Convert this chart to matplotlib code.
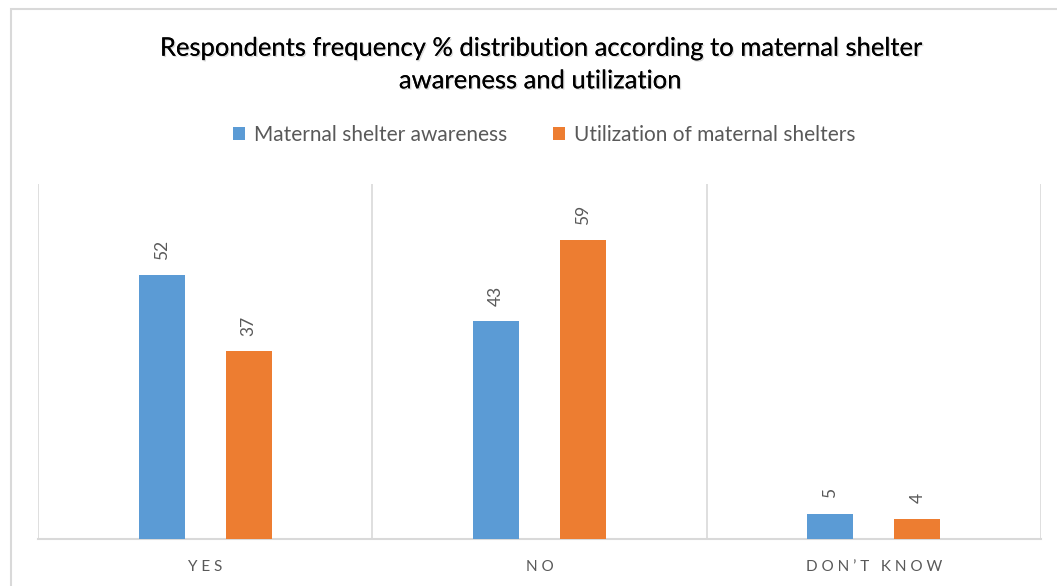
import matplotlib
matplotlib.use("Agg")
import matplotlib.pyplot as plt
import matplotlib.patheffects as pe
from matplotlib.patches import Rectangle
import numpy as np

plt.rcParams["font.family"] = ["Lato", "DejaVu Sans"]

categories = ["Y E S", "N O", "D O N \u2019 T   K N O W"]
series_names = ["Maternal shelter awareness", "Utilization of maternal shelters"]
awareness = [52, 43, 5]
utilization = [37, 59, 4]

COLORS = ["#5B9BD5", "#ED7D31"]
GRID = "#D9D9D9"
TEXT = "#595959"

fig = plt.figure(figsize=(10.57, 5.86), dpi=100)
ax = fig.add_axes([38 / 1057, 47 / 586, (1041 - 38) / 1057, (539 - 184) / 586])

x = np.arange(len(categories)) + 0.5
width = 0.138
offset = 0.13

for i, (vals, color) in enumerate(zip([awareness, utilization], COLORS)):
    xs = x + (offset if i else -offset)
    bars = ax.bar(xs, vals, width=width, color=color, label=series_names[i], zorder=3)
    for b, v in zip(bars, vals):
        ax.annotate(str(v), (b.get_x() + b.get_width() / 2, v),
                    xytext=(0, 11), textcoords="offset points",
                    rotation=90, ha="center", va="bottom",
                    fontsize=12.5, color=TEXT)

ax.set_xlim(0, 3)
ax.set_ylim(0, 70)
ax.set_yticks([])
ax.set_xticks(x)
ax.set_xticklabels(categories, fontsize=11, color=TEXT)
ax.tick_params(axis="x", length=0, pad=15)
for b in [0, 1, 2, 3]:
    ax.axvline(b, color=GRID, linewidth=1.2, zorder=1)
for s in ["top", "right", "left"]:
    ax.spines[s].set_visible(False)
ax.spines["bottom"].set_color(GRID)
ax.spines["bottom"].set_linewidth(1.5)

title = ("Respondents frequency % distribution according to maternal shelter\n"
         "awareness and utilization")
fig.text(540 / 1057, 1 - 64.5 / 586, title, ha="center", va="center",
         fontsize=18.4, color="#000000", linespacing=1.38,
         path_effects=[pe.withSimplePatchShadow(offset=(1, -1), shadow_rgbFace="#999999", alpha=0.35),
                       pe.Normal()])

fig.legend(loc="center", bbox_to_anchor=(544 / 1057, 1 - 135 / 586), ncol=2,
           frameon=False, fontsize=15, labelcolor=TEXT, handlelength=0.6,
           handleheight=0.6, handletextpad=0.4, columnspacing=2.2)

fig.add_artist(Rectangle((11 / 1057, -0.05), 1.1, 1.05 - 9 / 586,
                         transform=fig.transFigure, fill=False,
                         edgecolor=GRID, linewidth=1.5))

fig.savefig("out.png", dpi=100)
